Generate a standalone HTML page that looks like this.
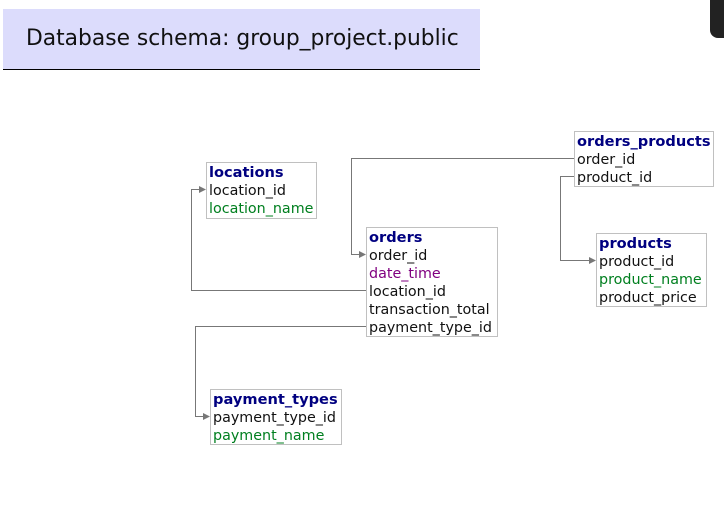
<!DOCTYPE html>
<html><head><meta charset="utf-8"><style>
body{margin:0;width:724px;height:526px;background:#fff;position:relative;overflow:hidden;font-family:"DejaVu Sans",Verdana,sans-serif;}
.hdr{position:absolute;left:3px;top:9px;width:477px;height:61px;background:#dcdcfc;border-bottom:1px solid #000;box-sizing:border-box;}
.hdr span{position:absolute;left:23px;top:17px;font-size:21.8px;color:#111;font-family:"DejaVu Sans",sans-serif;}
.corner{position:absolute;left:710px;top:-2px;width:20px;height:40px;background:#222;border-radius:0 0 0 8px;}
.t{position:absolute;border:1px solid #c0c0c0;background:#fff;box-sizing:border-box;padding:1px 2px 0;font-size:14.3px;line-height:18px;}
.t b{color:#000080;display:block;font-size:14.6px;white-space:nowrap}
.t div{white-space:nowrap;color:#111}
.g{color:#007f1f!important}.p{color:#800080!important}
svg{position:absolute;left:0;top:0}
</style></head><body>
<div class="hdr"><span>Database schema: group_project.public</span></div>
<div class="corner"></div>
<svg width="724" height="526">
<g fill="none" stroke="#777" stroke-width="1">
<polyline points="366.5,290.5 191.5,290.5 191.5,189.5 201,189.5"/>
<polyline points="574,158.5 351.5,158.5 351.5,254.5 361,254.5"/>
<polyline points="574,176.5 560.5,176.5 560.5,260.5 591,260.5"/>
<polyline points="366.5,326.5 195.5,326.5 195.5,416.5 205,416.5"/>
</g>
<g fill="#777">
<polygon points="206,189.5 199,186 199,193"/>
<polygon points="366,254.5 359,251 359,258"/>
<polygon points="596,260.5 589,257 589,264"/>
<polygon points="210,416.5 203,413 203,420"/>
</g>
</svg>
<div class="t" style="left:206px;top:162px;width:111px;height:57px"><b>locations</b><div>location_id</div><div class="g">location_name</div></div>
<div class="t" style="left:366px;top:227px;width:132px;height:110px"><b>orders</b><div>order_id</div><div class="p">date_time</div><div>location_id</div><div>transaction_total</div><div>payment_type_id</div></div>
<div class="t" style="left:574px;top:131px;width:140px;height:56px"><b>orders_products</b><div>order_id</div><div>product_id</div></div>
<div class="t" style="left:596px;top:233px;width:111px;height:74px"><b>products</b><div>product_id</div><div class="g">product_name</div><div>product_price</div></div>
<div class="t" style="left:210px;top:389px;width:132px;height:56px"><b>payment_types</b><div>payment_type_id</div><div class="g">payment_name</div></div>
</body></html>
